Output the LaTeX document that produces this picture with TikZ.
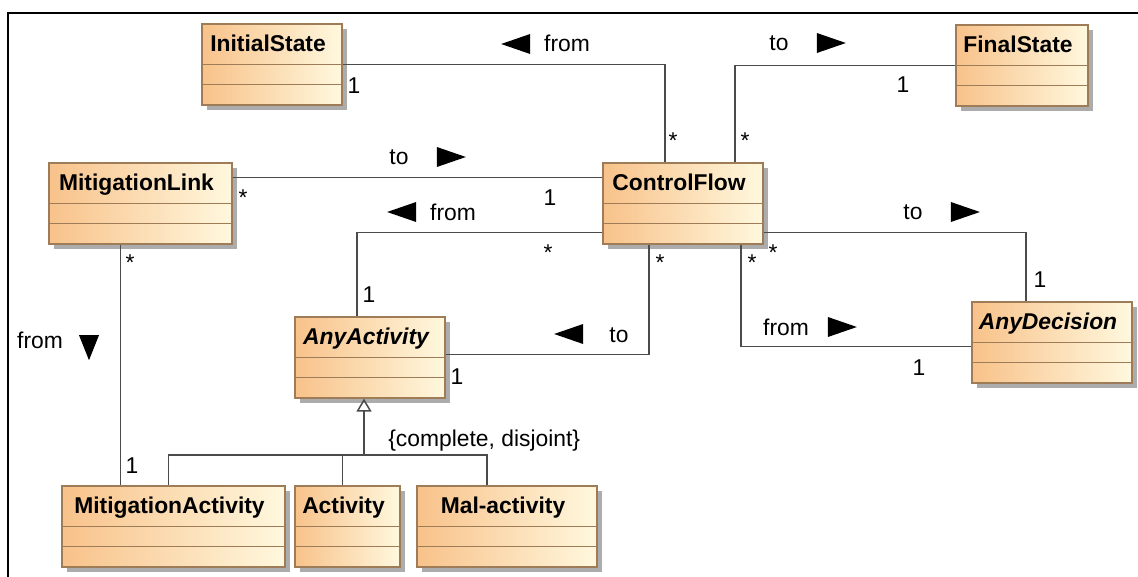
\documentclass[tikz,border=0pt]{standalone}
\usepackage{fontspec}
\setmainfont{Liberation Sans}
\usetikzlibrary{arrows.meta}
\usetikzlibrary{calc}
\usetikzlibrary{fit}
\usetikzlibrary{shadows}
\usetikzlibrary{shapes.geometric}
\definecolor{umlorange}{RGB}{248,194,138}
\definecolor{umlcream}{RGB}{255,248,222}
\definecolor{umlborder}{RGB}{158,124,88}
\definecolor{umlshadow}{RGB}{172,172,172}
\definecolor{umlline}{RGB}{75,75,75}
\newcommand{\diafont}{\fontsize{13pt}{15pt}\selectfont}
\tikzset{umlbox/.style = {draw=umlborder, line width=0.7pt, left color=umlorange, right color=umlcream, inner sep=0pt, drop shadow={shadow xshift=0.1cm, shadow yshift=-0.1cm, fill=umlshadow, opacity=1}}}
\tikzset{compline/.style = {draw=umlborder, line width=0.7pt}}
\tikzset{classname/.style = {font=\diafont\bfseries, inner sep=0pt, anchor=base}}
\tikzset{abstractname/.style = {font=\diafont\bfseries\itshape, inner sep=0pt, anchor=base}}
\tikzset{assoc/.style = {draw=umlline, line width=0.85pt}}
\tikzset{mult/.style = {font=\diafont, inner sep=0pt}}
\tikzset{multstar/.style = {font=\diafont, inner sep=0pt, anchor=base}}
\tikzset{role/.style = {font=\diafont, inner sep=0pt}}
\tikzset{dirmark/.style = {isosceles triangle, isosceles triangle stretches, fill=black, inner sep=0pt, minimum width=0.4cm, minimum height=0.58cm}}
\newcommand{\umlclass}[6][classname]{%
  \path (#3,#4) coordinate (#2-nw) (#5,#4+81) coordinate (#2-se);
  \node[umlbox, fit=(#2-nw)(#2-se)] (#2) {};
  \node[#1] (#2-name) at ($(#2.north)+(-4,28)$) {#6};
  \draw[compline] ($(#2.north west)+(0,41)$) -- ($(#2.north east)+(0,41)$);
  \draw[compline] ($(#2.north west)+(0,61)$) -- ($(#2.north east)+(0,61)$);
}
\begin{document}
\begin{tikzpicture}[x=0.02cm, y=-0.02cm]
        \useasboundingbox (0,0) rectangle (1138,577);
        \draw [line width=1.1pt] (8,577) -- (8,13) -- (1138,13);
        \umlclass{InitialState}{202}{24}{342}{InitialState}
        \umlclass{FinalState}{956}{25}{1088}{FinalState}
        \umlclass{MitigationLink}{49}{163}{232}{MitigationLink}
        \umlclass{ControlFlow}{603}{163}{763}{ControlFlow}
        \umlclass[abstractname]{AnyActivity}{295}{317}{445}{AnyActivity}
        \umlclass[abstractname]{AnyDecision}{972}{302}{1132}{AnyDecision}
        \umlclass{MitigationActivity}{62}{486}{285}{MitigationActivity}
        \umlclass{Activity}{295}{486}{400}{Activity}
        \umlclass{MalActivity}{417}{486}{597}{Mal-activity}
        \draw [assoc] (InitialState.east) -| ($(ControlFlow.north)+(-18,0)$);
        \draw [assoc] (FinalState.west) -| ($(ControlFlow.north)+(52,0)$);
        \draw [assoc] ($(MitigationLink.north east)+(0,15)$) -- ($(ControlFlow.north west)+(0,15)$);
        \draw [assoc] ($(ControlFlow.north west)+(0,70)$) -| ($(AnyActivity.north)+(-13,0)$);
        \draw [assoc] ($(AnyActivity.north east)+(0,38)$) -| ($(ControlFlow.south)+(-34,0)$);
        \draw [assoc] ($(ControlFlow.north east)+(0,70)$) -| ($(AnyDecision.north)+(-26,0)$);
        \draw [assoc] ($(ControlFlow.south)+(58,0)$) |- ($(AnyDecision.north west)+(0,45)$);
        \draw [assoc] ($(MitigationLink.south)+(-20,0)$) coordinate (mlfoot) -- (mlfoot |- MitigationActivity.north);
        \coordinate (genjoin) at (364,455);
        \draw [assoc] ($(MitigationActivity.north)+(-5,0)$) |- (genjoin) -| ($(MalActivity.north)+(-20,0)$);
        \draw [assoc] ($(Activity.north)+(-5,0)$) |- (genjoin);
        \draw [assoc, -{Triangle[open, length=0.26cm, width=0.3cm]}] (genjoin) -- ($(AnyActivity.south)+(-6,0)$);
        \node [role, anchor=west] (gset) at (388,441) {\{complete, disjoint\}};
        \node [dirmark, shape border rotate=180] (fromA) at (523,44) {};
        \node [role] (fromAtxt) at (567,43) {from};
        \node [role] (toB) at (779,43) {to};
        \node [dirmark] (toBmark) at (824,43) {};
        \node [role] (toC) at (399,157) {to};
        \node [dirmark] (toCmark) at (444,157) {};
        \node [dirmark, shape border rotate=180] (fromD) at (409,212) {};
        \node [role] (fromDtxt) at (453,212) {from};
        \node [dirmark, shape border rotate=180] (toE) at (576,334) {};
        \node [role] (toEtxt) at (619,335) {to};
        \node [role] (toF) at (913,212) {to};
        \node [dirmark] (toFmark) at (958,212) {};
        \node [role] (fromG) at (786,327) {from};
        \node [dirmark] (fromGmark) at (835,327) {};
        \node [role] (fromH) at (40,340) {from};
        \node [dirmark, shape border rotate=270, minimum height=0.5cm] (fromHmark) at (89,342) {};
        \node [mult] (m1) at (354,86) {1};
        \node [mult] (m2) at (903,85) {1};
        \node [mult] (m3) at (550,198) {1};
        \node [mult] (m4) at (369,295) {1};
        \node [mult] (m5) at (457,377) {1};
        \node [mult] (m6) at (1040,280) {1};
        \node [mult] (m7) at (919,368) {1};
        \node [mult] (m8) at (132,466) {1};
        \node [multstar] (s1) at (673,149) {*};
        \node [multstar] (s2) at (745,149) {*};
        \node [multstar] (s3) at (243,206) {*};
        \node [multstar] (s4) at (130,271) {*};
        \node [multstar] (s5) at (548,261) {*};
        \node [multstar] (s6) at (660,271) {*};
        \node [multstar] (s7) at (752,271) {*};
        \node [multstar] (s8) at (773,261) {*};
    \end{tikzpicture}
\end{document}
